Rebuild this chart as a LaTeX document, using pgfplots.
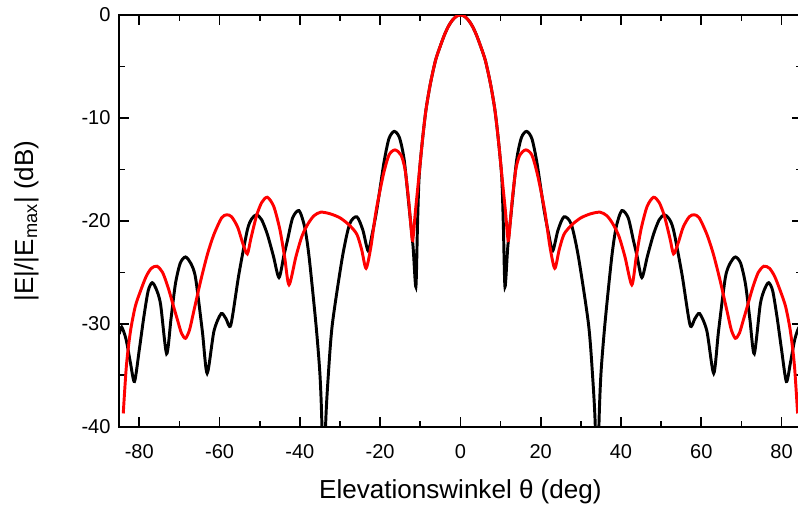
\documentclass[border=0pt]{standalone}
\usepackage{fontspec}
\setmainfont{Liberation Sans}
\usepackage{pgfplots}
\pgfplotsset{compat=1.18}
\begin{document}
\begin{tikzpicture}
\begin{axis}[
  scale only axis, width=510.75pt, height=308.25pt,
  xmin=-85, xmax=85, ymin=-40, ymax=0,
  xtick={-80,-60,-40,-20,0,20,40,60,80},
  xticklabels={-80,-60,-40,-20,0,20,40,60,80},
  ytick={-40,-30,-20,-10,0},
  yticklabels={-40,-30,-20,-10,0},
  minor xtick={-70,-50,-30,-10,10,30,50,70},
  minor ytick={-35,-25,-15,-5},
  tick align=inside,
  major tick length=7.5pt, minor tick length=4.5pt,
  tick style={line width=1.3pt, black},
  axis line style={line width=1.6pt},
  tick label style={font=\fontsize{15}{17}\selectfont},
  xticklabel style={yshift=-10pt},
  yticklabel style={xshift=-3pt},
  xlabel={Elevationswinkel θ (deg)},
  ylabel={|E|/|E\textsubscript{max}| (dB)},
  label style={font=\fontsize{19.5}{22}\selectfont},
  xlabel style={at={(axis description cs:0.5,-0.1752)}, anchor=base},
  ylabel style={at={(axis description cs:-0.1263,0.5)}, anchor=base},
]
\addplot[black, line width=2.2pt, smooth, tension=0.45] coordinates {
(-85.0,-31.0) (-84.4,-30.3) (-83.3,-31.5) (-82.2,-33.8) (-81.2,-35.6) (-80.0,-32.5)
(-78.9,-29.4) (-77.8,-26.8) (-76.8,-26.0) (-75.8,-26.6) (-74.7,-28.1) (-73.2,-32.9)
(-72.1,-29.5) (-71.0,-26.1) (-69.8,-24.1) (-68.5,-23.5) (-67.2,-24.1) (-66.0,-25.5)
(-64.3,-30.7) (-63.1,-34.8) (-61.4,-30.7) (-59.6,-29.0) (-58.4,-29.5) (-57.2,-30.1)
(-55.2,-25.2) (-53.1,-20.9) (-52.0,-19.8) (-50.8,-19.4) (-49.5,-19.9) (-48.1,-21.3)
(-46.6,-23.4) (-45.2,-25.5) (-44.0,-23.4) (-43.1,-21.9) (-41.8,-19.7) (-40.2,-19.0)
(-38.8,-20.6) (-37.7,-23.5) (-36.0,-30.0) (-35.0,-34.9) (-34.5,-40.0) (-34.1,-50.0)
(-33.6,-40.0) (-32.9,-34.9) (-31.9,-30.0) (-29.4,-23.5) (-27.6,-20.3) (-25.8,-19.6)
(-24.3,-20.9) (-23.0,-22.9) (-22.0,-21.3) (-21.0,-19.3) (-20.2,-17.3) (-19.0,-14.2)
(-17.8,-12.0) (-16.5,-11.3) (-15.2,-11.9) (-14.0,-14.1) (-12.7,-19.0) (-11.8,-22.5)
(-11.1,-26.4) (-10.7,-20.5) (-10.3,-15.8) (-9.5,-12.3) (-8.6,-9.25) (-7.5,-6.7)
(-6.2,-4.4) (-5.0,-3.0) (-4.0,-1.95) (-3.0,-1.1) (-2.0,-0.5) (-1.0,-0.12) (0,0)
(1.0,-0.12) (2.0,-0.5) (3.0,-1.1) (4.0,-1.95) (5.0,-3.0) (6.2,-4.4) (7.5,-6.7)
(8.6,-9.25) (9.5,-12.3) (10.3,-15.8) (10.7,-20.5) (11.1,-26.4) (11.8,-22.5)
(12.7,-19.0) (14.0,-14.1) (15.2,-11.9) (16.5,-11.3) (17.8,-12.0) (19.0,-14.2)
(20.2,-17.3) (21.0,-19.3) (22.0,-21.3) (23.0,-22.9) (24.3,-20.9) (25.8,-19.6)
(27.6,-20.3) (29.4,-23.5) (31.9,-30.0) (32.9,-34.9) (33.6,-40.0) (34.1,-50.0)
(34.5,-40.0) (35.0,-34.9) (36.0,-30.0) (37.7,-23.5) (38.8,-20.6) (40.2,-19.0)
(41.8,-19.7) (43.1,-21.9) (44.0,-23.4) (45.2,-25.5) (46.6,-23.4) (48.1,-21.3)
(49.5,-19.9) (50.8,-19.4) (52.0,-19.8) (53.1,-20.9) (55.2,-25.2) (57.2,-30.1)
(58.4,-29.5) (59.6,-29.0) (61.4,-30.7) (63.1,-34.8) (64.3,-30.7) (66.0,-25.5)
(67.2,-24.1) (68.5,-23.5) (69.8,-24.1) (71.0,-26.1) (72.1,-29.5) (73.2,-32.9)
(74.7,-28.1) (75.8,-26.6) (76.8,-26.0) (77.8,-26.8) (78.9,-29.4) (80.0,-32.5)
(81.2,-35.6) (82.2,-33.8) (83.3,-31.5) (84.4,-30.3) (85.0,-31.0)
};
\addplot[red, line width=2.2pt, smooth, tension=0.45] coordinates {
(-84.0,-38.7) (-83.2,-34.0) (-82.2,-30.7) (-81.0,-28.3) (-79.7,-26.8) (-78.3,-25.4)
(-77.0,-24.6) (-75.6,-24.4) (-74.2,-25.0) (-72.8,-26.5) (-71.4,-28.4) (-70.5,-29.6)
(-69.5,-30.9) (-68.5,-31.4) (-67.5,-30.6) (-66.5,-28.9) (-64.7,-25.8) (-63.0,-23.2)
(-61.4,-21.3) (-59.5,-19.7) (-58.2,-19.4) (-57.0,-19.6) (-55.5,-20.6) (-54.2,-22.2)
(-53.1,-23.2) (-52.2,-21.7) (-50.8,-19.5) (-49.5,-18.2) (-48.1,-17.7) (-46.5,-18.6)
(-45.0,-20.8) (-43.8,-23.5) (-42.7,-26.2) (-41.0,-23.5) (-39.5,-21.5) (-38.0,-20.3)
(-36.5,-19.5) (-34.8,-19.15) (-32.5,-19.3) (-30.0,-19.7) (-27.7,-20.4) (-25.8,-21.3)
(-24.6,-22.8) (-23.5,-24.6) (-22.3,-22.5) (-21.0,-19.0) (-19.2,-15.5) (-17.8,-13.6)
(-16.3,-13.1) (-14.8,-13.6) (-13.8,-15.0) (-12.9,-18.0) (-12.4,-20.2) (-11.9,-21.9)
(-11.2,-19.0) (-10.3,-15.5) (-9.5,-12.3) (-8.6,-9.25) (-7.5,-6.7) (-6.2,-4.4)
(-5.0,-3.0) (-4.0,-1.95) (-3.0,-1.1) (-2.0,-0.5) (-1.0,-0.12) (0,0)
(1.0,-0.12) (2.0,-0.5) (3.0,-1.1) (4.0,-1.95) (5.0,-3.0) (6.2,-4.4) (7.5,-6.7)
(8.6,-9.25) (9.5,-12.3) (10.3,-15.5) (11.2,-19.0) (11.9,-21.9) (12.4,-20.2)
(12.9,-18.0) (13.8,-15.0) (14.8,-13.6) (16.3,-13.1) (17.8,-13.6) (19.2,-15.5)
(21.0,-19.0) (22.3,-22.5) (23.5,-24.6) (24.6,-22.8) (25.8,-21.3) (27.7,-20.4)
(30.0,-19.7) (32.5,-19.3) (34.8,-19.15) (36.5,-19.5) (38.0,-20.3) (39.5,-21.5)
(41.0,-23.5) (42.7,-26.2) (43.8,-23.5) (45.0,-20.8) (46.5,-18.6) (48.1,-17.7)
(49.5,-18.2) (50.8,-19.5) (52.2,-21.7) (53.1,-23.2) (54.2,-22.2) (55.5,-20.6)
(57.0,-19.6) (58.2,-19.4) (59.5,-19.7) (61.4,-21.3) (63.0,-23.2) (64.7,-25.8)
(66.5,-28.9) (67.5,-30.6) (68.5,-31.4) (69.5,-30.9) (70.5,-29.6) (71.4,-28.4)
(72.8,-26.5) (74.2,-25.0) (75.6,-24.4) (77.0,-24.6) (78.3,-25.4) (79.7,-26.8)
(81.0,-28.3) (82.2,-30.7) (83.2,-34.0) (84.0,-38.7)
};
\coordinate (AX0) at (rel axis cs:0,0);
\coordinate (TR) at (axis cs:84.1,0);
\end{axis}
\pgfresetboundingbox
\path[use as bounding box] ([xshift=-89.25pt,yshift=-61.5pt]AX0) rectangle ([yshift=11.25pt]TR);
\end{tikzpicture}
\end{document}
